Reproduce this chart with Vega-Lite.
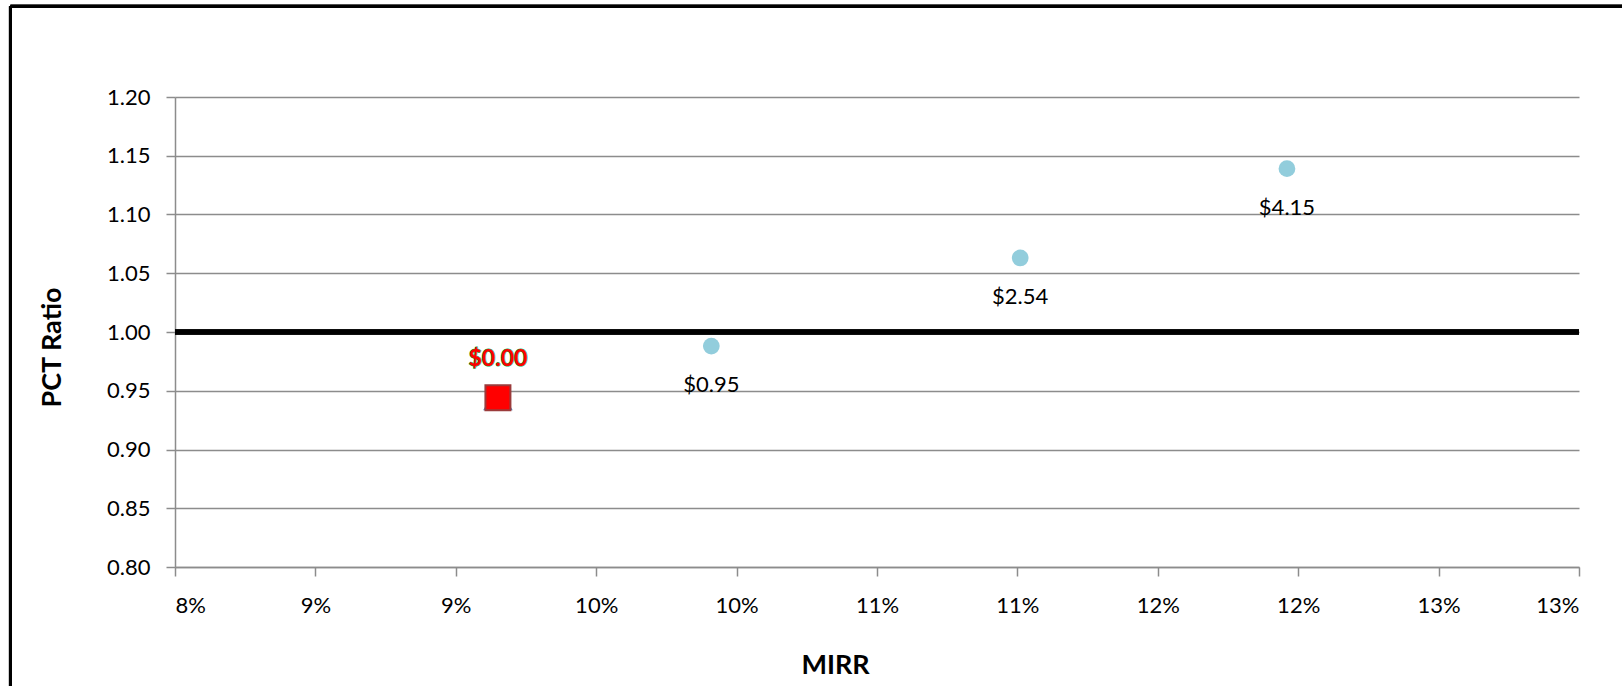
{
  "$schema": "https://vega.github.io/schema/vega-lite/v6.json",
  "autosize": {"type": "none"},
  "width": 1404,
  "height": 470,
  "padding": {"left": 175, "top": 97, "right": 43, "bottom": 119},
  "background": "white",
  "config": {
    "font": "Lato",
    "view": {"stroke": null},
    "axis": {"labelFont": "Lato", "titleFont": "Lato", "labelColor": "#000", "titleColor": "#000"}
  },
  "data": {
    "values": [
      {"mirr": 0.0915, "pct": 0.944, "label": "$0.00", "series": "current"},
      {"mirr": 0.0991, "pct": 0.988, "label": "$0.95", "series": "other"},
      {"mirr": 0.1101, "pct": 1.063, "label": "$2.54", "series": "other"},
      {"mirr": 0.1196, "pct": 1.139, "label": "$4.15", "series": "other"}
    ]
  },
  "encoding": {
    "x": {
      "field": "mirr", "type": "quantitative",
      "scale": {"domain": [0.08, 0.13], "nice": false, "zero": false},
      "axis": {
        "title": "MIRR",
        "values": [0.08, 0.085, 0.09, 0.095, 0.1, 0.105, 0.11, 0.115, 0.12, 0.125, 0.13],
        "labelExpr": "ceil(round(datum.value*200)/2) + '%'",
        "labelFontSize": 22, "labelPadding": 19,
        "tickSize": 9, "tickColor": "#8c8c8c", "tickWidth": 1.5,
        "domainColor": "#8c8c8c", "domainWidth": 1.5,
        "grid": false,
        "titleFontSize": 27, "titleFontWeight": "bold",
        "titleX": 660, "titleY": 98, "titleBaseline": "middle", "titleAlign": "center", "titleAnchor": null
      }
    },
    "y": {
      "field": "pct", "type": "quantitative",
      "scale": {"domain": [0.8, 1.2], "nice": false, "zero": false},
      "axis": {
        "title": "PCT Ratio",
        "values": [0.8, 0.85, 0.9, 0.95, 1.0, 1.05, 1.1, 1.15, 1.2],
        "format": ".2f",
        "labelFontSize": 22, "labelPadding": 16,
        "tickSize": 9, "tickColor": "#8c8c8c", "tickWidth": 1.5,
        "domainColor": "#8c8c8c", "domainWidth": 1.5,
        "grid": true, "gridColor": "#8c8c8c", "gridWidth": 1.5,
        "titleFontSize": 27, "titleFontWeight": "bold",
        "titleAngle": 270, "titleX": -123, "titleY": 250, "titleBaseline": "middle", "titleAlign": "center"
      }
    }
  },
  "layer": [
    {
      "mark": {"type": "rule", "color": "#000", "strokeWidth": 3, "clip": false},
      "encoding": {
        "x": {"datum": 0.07414, "scale": {"domain": [0.08, 0.13], "nice": false, "zero": false}},
        "y": {"datum": 1.2773, "scale": {"domain": [0.8, 1.2], "nice": false, "zero": false}},
        "y2": {"datum": 0.6}
      }
    },
    {
      "mark": {"type": "rule", "color": "#000", "strokeWidth": 3, "clip": false},
      "encoding": {
        "x": {"datum": 0.07414, "scale": {"domain": [0.08, 0.13], "nice": false, "zero": false}},
        "x2": {"datum": 0.14},
        "y": {"datum": 1.2773, "scale": {"domain": [0.8, 1.2], "nice": false, "zero": false}}
      }
    },
    {
      "mark": {"type": "rule", "color": "#000", "strokeWidth": 5},
      "encoding": {
        "x": null,
        "y": {"datum": 1.0, "scale": {"domain": [0.8, 1.2], "nice": false, "zero": false}}
      }
    },
    {
      "transform": [{"filter": "datum.series == 'current'"}],
      "mark": {"type": "point", "shape": "triangle-up", "size": 729, "filled": true, "color": "#4F81BD", "opacity": 1, "stroke": "#4F81BD", "strokeWidth": 1.5}
    },
    {
      "transform": [{"filter": "datum.series == 'current'"}],
      "mark": {"type": "point", "shape": "square", "size": 625, "filled": true, "fill": "#FF0000", "opacity": 1, "stroke": "#9b3b3b", "strokeWidth": 2}
    },
    {
      "transform": [{"filter": "datum.series == 'other'"}],
      "mark": {"type": "circle", "size": 280, "color": "#92CDDC", "opacity": 1}
    },
    {
      "transform": [{"filter": "datum.series == 'other'"}],
      "mark": {"type": "text", "fontSize": 22, "color": "#000", "dy": 39, "baseline": "middle", "align": "center", "font": "Lato"},
      "encoding": {"text": {"field": "label"}}
    },
    {
      "transform": [{"filter": "datum.series == 'current'"}],
      "mark": {"type": "text", "fontSize": 23, "fontWeight": "bold", "fill": "#00B050", "stroke": "#00B050", "strokeWidth": 1.0, "dy": -39, "baseline": "middle", "align": "center", "font": "Lato"},
      "encoding": {"text": {"field": "label"}}
    },
    {
      "transform": [{"filter": "datum.series == 'current'"}],
      "mark": {"type": "text", "fontSize": 23, "fontWeight": "bold", "fill": "#FF0000", "dy": -39, "baseline": "middle", "align": "center", "font": "Lato"},
      "encoding": {"text": {"field": "label"}}
    }
  ]
}
